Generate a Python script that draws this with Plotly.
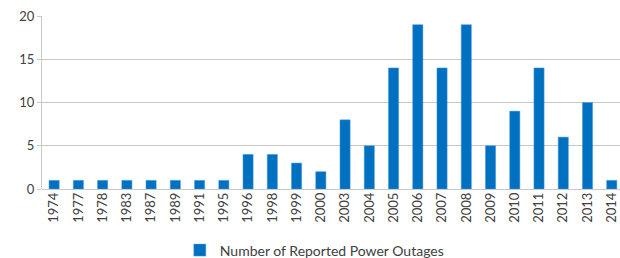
import plotly.graph_objects as go

years = ["1974", "1977", "1978", "1983", "1987", "1989", "1991", "1995", "1996", "1998",
         "1999", "2000", "2003", "2004", "2005", "2006", "2007", "2008", "2009", "2010",
         "2011", "2012", "2013", "2014"]
outages = [1, 1, 1, 1, 1, 1, 1, 1, 4, 4, 3, 2, 8, 5, 14, 19, 14, 19, 5, 9, 14, 6, 10, 1]
y_ticks = [0, 5, 10, 15, 20]

font_family = "Lato, Liberation Sans, sans-serif"
text_color = "#404040"
grid_color = "#C8C8C8"

fig = go.Figure()
fig.add_trace(go.Bar(
    x=years, y=outages,
    name="Number of Reported Power Outages",
    marker=dict(color="#0070C0", line=dict(color="#4A9BE0", width=0.5)),
))

fig.update_layout(
    width=620, height=258,
    margin=dict(l=42, r=0, t=16, b=69),
    paper_bgcolor="white", plot_bgcolor="white",
    bargap=0.58,
    font=dict(family=font_family, size=13, color=text_color),
    showlegend=True,
    legend=dict(orientation="h", xref="container", yref="container",
                x=0.290, xanchor="left", y=0.029, yanchor="middle",
                font=dict(size=14, color=text_color), itemwidth=30,
                bgcolor="rgba(0,0,0,0)"),
)
fig.update_xaxes(
    type="category", range=[-0.5, 23.34], tickangle=-90, automargin=False,
    ticklabeloverflow="allow",
    showline=False, showgrid=False, ticks="", tickfont=dict(size=13, color=text_color),
)
fig.update_yaxes(
    range=[0, 20], tickvals=y_ticks, showgrid=True, gridcolor=grid_color, gridwidth=1,
    automargin=False, ticklabeloverflow="allow",
    showline=True, linecolor=grid_color, linewidth=1,
    ticks="outside", ticklen=4, tickcolor=grid_color,
    zeroline=True, zerolinecolor=grid_color, zerolinewidth=1,
    tickfont=dict(size=13, color=text_color),
)

fig.write_html(
    "out.html",
    config={"displayModeBar": False},
    post_script="document.body.style.margin='0';document.body.style.overflow='hidden';",
)
